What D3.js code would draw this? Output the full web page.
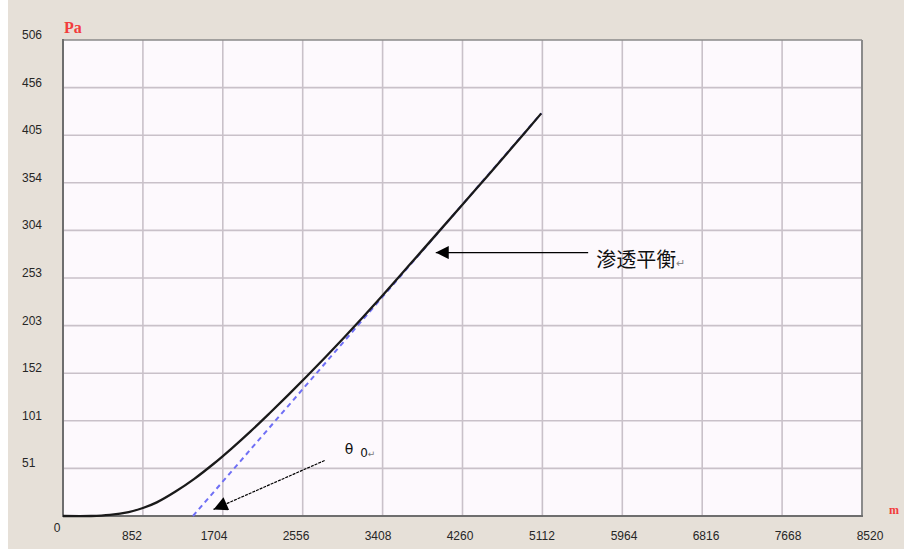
<!DOCTYPE html>
<html>
<head>
<meta charset="utf-8">
<script src="https://cdn.jsdelivr.net/npm/d3@7"></script>
<style>
  html, body { margin: 0; padding: 0; background: #ffffff; }
  svg { display: block; }
</style>
</head>
<body>
<svg id="chart" width="904" height="559"></svg>
<script>
// ---- data ----
const xTickValues = [0, 852, 1704, 2556, 3408, 4260, 5112, 5964, 6816, 7668, 8520];
const xTickLabels = ["0", "852", "1704", "2556", "3408", "4260", "5112", "5964", "6816", "7668", "8520"];
const yTickValues = [50.6, 101.2, 151.8, 202.4, 253, 303.6, 354.2, 404.8, 455.4, 506];
const yTickLabels = ["51", "101", "152", "203", "253", "304", "354", "405", "456", "506"];

const curveX = [0, 300, 500, 700, 852, 1000, 1200, 1400, 1600, 1800, 2000, 2200, 2400, 2600, 2800, 3000, 3200, 3400, 3700, 4000, 4400, 4800, 5100];
const curveY = [0, 0, 1.2, 4.2, 8.5, 14.5, 26, 39.5, 55, 72, 90, 109, 128.5, 148.5, 169, 190, 211.5, 233.5, 267.5, 301.5, 347, 393, 428];

const tangentX = [1386, 5100];
const tangentY = [0, 428];

// annotations (data coordinates)
const arrow1 = { from: [5600, 280], to: [3975, 280], label: "渗透平衡" };
const arrow2 = { from: [2790, 59], to: [1605, 7], label: "θ" };

// ---- layout ----
const svg = d3.select("#chart");
const W = 904, H = 559;
const x = d3.scaleLinear().domain([0, 8520]).range([63, 862]);
const y = d3.scaleLinear().domain([0, 506]).range([516, 40]);
// label placement scale (labels in the original are spread slightly wider than the grid)
const xLabelPos = d3.scaleLinear().domain([852, 8520]).range([132, 870]);

// page background
svg.append("rect").attr("x", 8).attr("y", 0).attr("width", W - 8).attr("height", 549).attr("fill", "#e6e0d8");

// plot area
svg.append("rect")
  .attr("x", x(0)).attr("y", y(506))
  .attr("width", x(8520) - x(0)).attr("height", y(0) - y(506))
  .attr("fill", "#fdf9fd");

// grid
const grid = svg.append("g").attr("stroke", "#c9c1c9").attr("stroke-width", 1.6);
grid.selectAll("line.v").data(xTickValues.slice(1, -1)).join("line")
  .attr("x1", d => x(d)).attr("x2", d => x(d))
  .attr("y1", y(0)).attr("y2", y(506));
grid.selectAll("line.h").data(yTickValues.slice(0, -1)).join("line")
  .attr("x1", x(0)).attr("x2", x(8520))
  .attr("y1", d => y(d)).attr("y2", d => y(d));

// frame
svg.append("line").attr("x1", x(0)).attr("x2", x(8520)).attr("y1", y(506)).attr("y2", y(506))
  .attr("stroke", "#8a8a8a").attr("stroke-width", 1.5);
svg.append("line").attr("x1", x(8520)).attr("x2", x(8520)).attr("y1", y(506)).attr("y2", y(0))
  .attr("stroke", "#8a8a8a").attr("stroke-width", 2);
svg.append("line").attr("x1", x(0)).attr("x2", x(0)).attr("y1", y(506) - 1).attr("y2", y(0) + 1)
  .attr("stroke", "#6e6e6e").attr("stroke-width", 2);
svg.append("line").attr("x1", x(0)).attr("x2", x(8520) + 1).attr("y1", y(0)).attr("y2", y(0))
  .attr("stroke", "#6e6e6e").attr("stroke-width", 2);

// tick labels
const tickFont = "'Liberation Sans', Arial, sans-serif";
svg.append("g").selectAll("text").data(yTickValues).join("text")
  .attr("x", 22).attr("y", d => y(d) - 1)
  .attr("font-family", tickFont).attr("font-size", 12).attr("fill", "#262626")
  .text((d, i) => yTickLabels[i]);
svg.append("g").selectAll("text").data(xTickValues.slice(1)).join("text")
  .attr("x", d => xLabelPos(d)).attr("y", 540)
  .attr("text-anchor", "middle")
  .attr("font-family", tickFont).attr("font-size", 12).attr("fill", "#262626")
  .text((d, i) => xTickLabels[i + 1]);
svg.append("text").attr("x", x(0) - 6).attr("y", 532).attr("text-anchor", "middle")
  .attr("font-family", tickFont).attr("font-size", 12).attr("fill", "#262626").text(xTickLabels[0]);

// unit labels
svg.append("text").attr("x", 64).attr("y", 33)
  .attr("font-family", "'Liberation Serif', serif").attr("font-size", 16).attr("font-weight", "bold")
  .attr("fill", "#f23c3c").text("Pa");
svg.append("text").attr("x", 889).attr("y", 514)
  .attr("font-family", "'Liberation Serif', serif").attr("font-size", 12).attr("font-weight", "bold")
  .attr("fill", "#f23c3c").text("m");

// tangent (dashed)
const tangentData = tangentX.map((d, i) => [d, tangentY[i]]);
svg.append("path").datum(tangentData)
  .attr("d", d3.line().x(d => x(d[0])).y(d => y(d[1])))
  .attr("fill", "none").attr("stroke", "#6f6ff5").attr("stroke-width", 2)
  .attr("stroke-dasharray", "5,4");

// main curve
const curveData = curveX.map((d, i) => [d, curveY[i]]);
svg.append("path").datum(curveData)
  .attr("d", d3.line().x(d => x(d[0])).y(d => y(d[1])).curve(d3.curveCatmullRom.alpha(0.5)))
  .attr("fill", "none").attr("stroke", "#1a1a1a").attr("stroke-width", 2.3)
  .attr("stroke-linejoin", "round");

// arrow markers
const defs = svg.append("defs");
defs.append("marker").attr("id", "headBig")
  .attr("viewBox", "0 0 10 10").attr("refX", 10).attr("refY", 5)
  .attr("markerWidth", 17).attr("markerHeight", 13).attr("markerUnits", "userSpaceOnUse")
  .attr("orient", "auto")
  .append("path").attr("d", "M0,0 L10,5 L0,10 Z").attr("fill", "#000");
defs.append("marker").attr("id", "headSmall")
  .attr("viewBox", "0 0 10 10").attr("refX", 10).attr("refY", 5)
  .attr("markerWidth", 17).attr("markerHeight", 14).attr("markerUnits", "userSpaceOnUse")
  .attr("orient", "auto")
  .append("path").attr("d", "M0,0 L10,5 L0,10 Z").attr("fill", "#000");

svg.append("line")
  .attr("x1", x(arrow1.from[0])).attr("y1", y(arrow1.from[1]))
  .attr("x2", x(arrow1.to[0])).attr("y2", y(arrow1.to[1]))
  .attr("stroke", "#000").attr("stroke-width", 1.3)
  .attr("marker-end", "url(#headBig)");
svg.append("line")
  .attr("x1", x(arrow2.from[0])).attr("y1", y(arrow2.from[1]))
  .attr("x2", x(arrow2.to[0])).attr("y2", y(arrow2.to[1]))
  .attr("stroke", "#000").attr("stroke-width", 1.2)
  .attr("stroke-dasharray", "3,1")
  .attr("marker-end", "url(#headSmall)");

// annotation text 1
const t1 = svg.append("text").attr("x", x(arrow1.from[0]) + 8).attr("y", y(arrow1.from[1]) + 14)
  .attr("font-family", "'Noto Sans CJK SC', sans-serif").attr("font-size", 20).attr("fill", "#111");
t1.append("tspan").text(arrow1.label);
t1.append("tspan").attr("font-size", 11).attr("fill", "#888").text("↵");

// annotation text 2
const t2 = svg.append("text").attr("x", x(arrow2.from[0]) + 20).attr("y", y(arrow2.from[1]) - 6)
  .attr("font-family", "'DejaVu Sans', sans-serif").attr("font-size", 14).attr("fill", "#111");
t2.append("tspan").text(arrow2.label);
t2.append("tspan").attr("dx", 7).attr("dy", 3).attr("font-size", 12).text("0");
t2.append("tspan").attr("font-size", 9).attr("fill", "#777").text("↵");
</script>
</body>
</html>
